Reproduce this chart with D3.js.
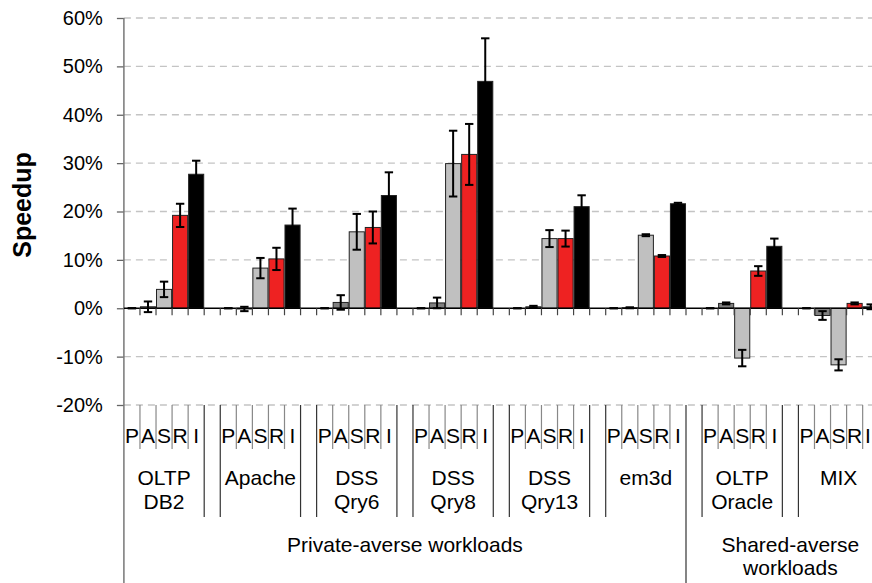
<!DOCTYPE html>
<html>
<head>
<meta charset="utf-8">
<script src="https://cdn.jsdelivr.net/npm/d3@7"></script>
<style>
html,body{margin:0;padding:0;background:#fff;}
svg{display:block;}
text{font-family:"Liberation Sans",Arial,sans-serif;fill:#000;}
</style>
</head>
<body>
<svg id="chart" width="872" height="583"></svg>
<script>
// ---- data ----
const series = ["P","A","S","R","I"];
const groups = [["OLTP","DB2"],["Apache"],["DSS","Qry6"],["DSS","Qry8"],["DSS","Qry13"],["em3d"],["OLTP","Oracle"],["MIX"]];
const superGroups = [["Private-averse workloads"],["Shared-averse","workloads"]];
const valP = [0, 0, 0, 0, 0, 0, 0, 0];
const valA = [0.3, -0.15, 1.2, 1.1, 0.3, 0.1, 1.0, -1.5];
const valS = [3.9, 8.3, 15.8, 29.9, 14.4, 15.1, -10.3, -11.7];
const valR = [19.2, 10.2, 16.7, 31.8, 14.4, 10.8, 7.7, 1.0];
const valI = [27.7, 17.2, 23.3, 46.9, 21.0, 21.6, 12.8, 0.3];
const errP = [0, 0, 0, 0, 0, 0, 0, 0];
const errA = [1.1, 0.45, 1.5, 1.1, 0.2, 0.1, 0.2, 0.9];
const errS = [1.6, 2.1, 3.7, 6.8, 1.75, 0.2, 1.7, 1.15];
const errR = [2.4, 2.3, 3.3, 6.3, 1.65, 0.2, 1.0, 0.2];
const errI = [2.8, 3.4, 4.8, 8.9, 2.35, 0.2, 1.6, 0.5];
const yTicks = [-20, -10, 0, 10, 20, 30, 40, 50, 60];
const colors = {P:"#000000", A:"#808080", S:"#c0c0c0", R:"#ee2222", I:"#000000"};

const values = {P:valP, A:valA, S:valS, R:valR, I:valI};
const errors = {P:errP, A:errA, S:errS, R:errR, I:errI};

// ---- layout ----
const W = 872;
const slotsPerGroup = 6;
const nSlots = groups.length * slotsPerGroup;
const left = 123.9, step = 16.06;
const svg = d3.select("#chart");

const x = d3.scaleBand().domain(d3.range(nSlots)).range([left, left + nSlots*step]).paddingInner(0.06).paddingOuter(0.03);
const bx = k => left + k*step; // boundary position
const y = d3.scaleLinear().domain([-20, 60]).range([405, 18]);

// gridlines
svg.append("g").selectAll("line").data(yTicks.filter(t => t !== 0)).join("line")
  .attr("x1", left).attr("x2", left + nSlots*step)
  .attr("y1", d => y(d)).attr("y2", d => y(d))
  .attr("stroke", "#c4c4c4").attr("stroke-width", 1.3).attr("stroke-dasharray", "7,5");

// y axis
const yAxis = d3.axisLeft(y).tickValues(yTicks).tickFormat(d => d + "%").tickSize(7).tickPadding(14);
const ga = svg.append("g").attr("transform", `translate(${left},0)`).call(yAxis);
ga.select(".domain").remove();
ga.selectAll(".tick line").attr("stroke", "#666").attr("stroke-width", 1.3);
ga.selectAll(".tick text").style("font-size", "20px").attr("fill", "#000").attr("font-family", "Liberation Sans, Arial, sans-serif");
svg.append("line").attr("x1", left).attr("x2", left).attr("y1", y(60)).attr("y2", 583)
  .attr("stroke", "#777").attr("stroke-width", 1.5);

// y label
svg.append("text").attr("transform", `translate(31,205) rotate(-90)`)
  .attr("text-anchor", "middle").style("font-size", "25px").style("font-weight", "bold").text("Speedup");

// bars
const barData = [];
groups.forEach((g, gi) => {
  series.forEach((s, si) => {
    barData.push({k: gi*slotsPerGroup + si, s, v: values[s][gi], e: errors[s][gi]});
  });
});
svg.append("g").selectAll("rect").data(barData.filter(d => d.s !== "P")).join("rect")
  .attr("x", d => x(d.k)).attr("width", x.bandwidth())
  .attr("y", d => y(Math.max(0, d.v))).attr("height", d => Math.abs(y(d.v) - y(0)))
  .attr("fill", d => colors[d.s]).attr("stroke", "#222").attr("stroke-width", 1);

// zero line
svg.append("line").attr("x1", left).attr("x2", left + nSlots*step).attr("y1", y(0)).attr("y2", y(0))
  .attr("stroke", "#000").attr("stroke-width", 1.4);
// ticks on zero line
svg.append("g").selectAll("line").data(d3.range(1, nSlots+1)).join("line")
  .attr("x1", k => bx(k)).attr("x2", k => bx(k)).attr("y1", y(0)).attr("y2", y(0) + 7)
  .attr("stroke", "#444").attr("stroke-width", 1.2);

// error bars
const eg = svg.append("g").attr("stroke", "#000").attr("stroke-width", 2);
barData.forEach(d => {
  const cx = x(d.k) + x.bandwidth()/2;
  const y1 = y(d.v + d.e), y2 = y(d.v - d.e);
  eg.append("line").attr("x1", cx).attr("x2", cx).attr("y1", y1).attr("y2", y2);
  eg.append("line").attr("x1", cx-4.2).attr("x2", cx+4.2).attr("y1", y1).attr("y2", y1);
  eg.append("line").attr("x1", cx-4.2).attr("x2", cx+4.2).attr("y1", y2).attr("y2", y2);
});

// category axis: series labels
const cat = svg.append("g");
barData.forEach(d => {
  cat.append("text").attr("x", Math.min(x(d.k) + x.bandwidth()/2, W - 4)).attr("y", 443)
    .attr("text-anchor", "middle").style("font-size", "21px").text(d.s);
});
// separators
const longB = new Set();
groups.forEach((g, gi) => { longB.add(gi*6); longB.add(gi*6+5); });
longB.add(nSlots - 1);
const fullB = new Set([0, 35]);
for (let k = 1; k <= nSlots; k++) {
  if (fullB.has(k)) continue;
  const isLong = longB.has(k);
  cat.append("line").attr("x1", bx(k)).attr("x2", bx(k)).attr("y1", 405).attr("y2", isLong ? 517 : 449)
    .attr("stroke", isLong ? "#333" : "#888").attr("stroke-width", 1.2);
}
cat.append("line").attr("x1", bx(35)).attr("x2", bx(35)).attr("y1", 405).attr("y2", 583)
  .attr("stroke", "#333").attr("stroke-width", 1.2);

// group labels
groups.forEach((g, gi) => {
  const cx = (bx(gi*6) + bx(gi*6+5)) / 2;
  g.forEach((line, li) => {
    cat.append("text").attr("x", cx).attr("y", 485 + li*24).attr("text-anchor", "middle")
      .style("font-size", "21px").text(line);
  });
});
// super group labels
const superSpans = [[0, 35], [35, 48]];
superGroups.forEach((sg, i) => {
  const cx = (bx(superSpans[i][0]) + bx(superSpans[i][1])) / 2;
  sg.forEach((line, li) => {
    cat.append("text").attr("x", cx).attr("y", 552 + li*23).attr("text-anchor", "middle")
      .style("font-size", "21px").text(line);
  });
});
</script>
</body>
</html>
